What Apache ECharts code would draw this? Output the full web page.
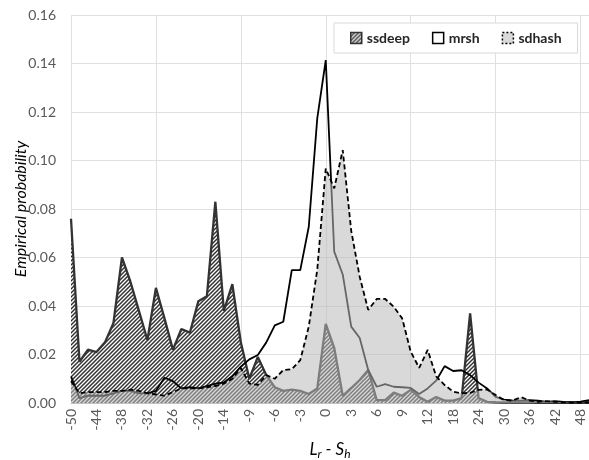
<!DOCTYPE html>
<html lang="en">
<head>
  <meta charset="UTF-8">
  <title>Empirical probability</title>
  <script src="https://cdn.jsdelivr.net/npm/echarts@6/dist/echarts.min.js"></script>
</head>
<body style="margin:0">
<div id="main" style="width: 589px;height:460px;"></div>
<script type="text/javascript">

// L_r - S_h categories (step 2 on the sides, step 1 in the middle)
var categories = [-50,-48,-46,-44,-42,-40,-38,-36,-34,-32,-30,-28,-26,-24,-22,-20,-18,-16,-14,-12,-10,
  -9,-8,-7,-6,-5,-4,-3,-2,-1,0,1,2,3,4,5,6,7,8,9,10,11,12,
  14,16,18,20,22,24,26,28,30,32,34,36,38,40,42,44,46,48,50];

var ssdeep = [0.076,0.017,0.022,0.021,0.025,0.033,0.060,0.050,0.038,0.026,0.0475,0.035,0.022,0.0305,0.029,0.042,0.044,0.083,0.038,0.049,0.025,
  0.010,0.019,0.0115,0.0065,0.005,0.0055,0.005,0.0037,0.006,0.0326,0.0227,0.003,0.0062,0.0095,0.0136,0.0012,0.0012,0.0043,0.003,0.0054,0.0025,0.0005,
  0.0025,0.001,0.001,0.002,0.037,0.002,0.0005,0.0003,0.0002,0.0002,0.0002,0.0002,0.0001,0.0001,0.0001,0.0001,0.0001,0.0001,0.0001];

var mrsh = [0.011,0.002,0.003,0.003,0.003,0.004,0.005,0.005,0.004,0.004,0.005,0.0104,0.009,0.006,0.0065,0.006,0.007,0.008,0.0085,0.011,0.015,
  0.018,0.0198,0.025,0.032,0.0335,0.0548,0.0548,0.0727,0.1174,0.1414,0.0624,0.053,0.0315,0.0268,0.0136,0.0067,0.0078,0.0067,0.0065,0.0062,0.0037,0.006,
  0.0092,0.0152,0.0132,0.0135,0.0115,0.0084,0.006,0.0025,0.0014,0.001,0.001,0.0012,0.001,0.0005,0.0008,0.0005,0.0003,0.0006,0.0012];

var sdhash = [0.009,0.004,0.0045,0.0045,0.0045,0.005,0.005,0.0055,0.005,0.004,0.0035,0.003,0.0045,0.006,0.006,0.006,0.0065,0.007,0.008,0.010,0.0144,
  0.008,0.0075,0.0115,0.010,0.0136,0.0139,0.0177,0.0315,0.055,0.0967,0.0885,0.1043,0.071,0.052,0.0384,0.0429,0.0429,0.0397,0.0349,0.0212,0.0145,0.0219,
  0.011,0.0074,0.0047,0.004,0.0042,0.0054,0.0056,0.0033,0.0012,0.001,0.0024,0.001,0.0005,0.0008,0.0005,0.0003,0.0002,0.0002,0.0003];

var yTicks = [0, 0.16, 0.02]; // min, max, step

// diagonal hatch for ssdeep
function hatch() {
  var c = document.createElement('canvas');
  c.width = 4; c.height = 4;
  var g = c.getContext('2d');
  g.fillStyle = '#ffffff';
  g.fillRect(0, 0, 4, 4);
  g.strokeStyle = '#333333';
  g.lineWidth = 1.5;
  g.beginPath();
  g.moveTo(-1, 5); g.lineTo(5, -1);
  g.moveTo(-1, 1); g.lineTo(1, -1);
  g.moveTo(3, 5); g.lineTo(5, 3);
  g.stroke();
  return c;
}
var hatchFill = { image: hatch(), repeat: 'repeat' };

var font = 'Lato, "Open Sans", sans-serif';
var myChart = echarts.init(document.getElementById('main'));

var option = {
  animation: false,
  backgroundColor: '#ffffff',
  grid: { left: 71, right: 0, top: 15, bottom: 57, outerBoundsMode: 'none', containLabel: false },
  legend: {
    left: 334, top: 23,
    padding: [8, 16, 8, 16],
    itemGap: 22,
    itemWidth: 11, itemHeight: 11,
    backgroundColor: '#ffffff',
    borderColor: '#d9d9d9', borderWidth: 1,
    textStyle: { fontFamily: font, fontWeight: 'bold', fontSize: 14, color: '#262626' },
    data: [
      { name: 'ssdeep', icon: 'rect', itemStyle: { color: hatchFill, borderColor: '#333', borderWidth: 1.5 } },
      { name: 'mrsh', icon: 'rect', itemStyle: { color: '#ffffff', borderColor: '#000', borderWidth: 1.5 } },
      { name: 'sdhash', icon: 'rect', itemStyle: { color: '#d9d9d9', borderColor: '#000', borderWidth: 1.5, borderType: [2, 2] } }
    ]
  },
  xAxis: {
    type: 'category',
    data: categories,
    boundaryGap: false,
    name: '{i|L}{s|r}{i| - S}{s|h}',
    nameLocation: 'middle',
    nameGap: 36,
    nameTextStyle: {
      rich: {
        i: { fontFamily: font, fontStyle: 'italic', fontSize: 17, color: '#000' },
        s: { fontFamily: font, fontStyle: 'italic', fontSize: 12, color: '#000', verticalAlign: 'bottom', padding: [9, 0, 0, 0] }
      }
    },
    axisLine: { lineStyle: { color: '#bfbfbf' } },
    axisTick: { show: false },
    axisLabel: { interval: 2, rotate: 90, margin: 6, fontFamily: font, fontSize: 14, color: '#595959' },
    splitLine: { show: true, interval: 9, lineStyle: { color: '#e0e0e0' } }
  },
  yAxis: {
    type: 'value',
    min: yTicks[0], max: yTicks[1], interval: yTicks[2],
    name: 'Empirical probability',
    nameLocation: 'middle',
    nameGap: 42,
    nameMoveOverlap: false,
    nameTextStyle: { fontFamily: font, fontStyle: 'italic', fontSize: 16, color: '#000' },
    axisLine: { show: false },
    axisLabel: { margin: 15, fontFamily: font, fontSize: 14, color: '#595959', formatter: function (v) { return v.toFixed(2); } },
    splitLine: { lineStyle: { color: '#e0e0e0' } }
  },
  series: [
    {
      name: 'ssdeep', type: 'line', data: ssdeep, showSymbol: false, z: 2,
      lineStyle: { color: '#333333', width: 2.3 },
      itemStyle: { color: '#333333' },
      areaStyle: { color: hatchFill, opacity: 1 }
    },
    {
      name: 'mrsh', type: 'line', data: mrsh, showSymbol: false, z: 3,
      lineStyle: { color: '#000', width: 1.8 },
      itemStyle: { color: '#000' }
    },
    {
      name: 'sdhash', type: 'line', data: sdhash, showSymbol: false, z: 4,
      lineStyle: { color: '#000', width: 1.8, type: [5, 3] },
      itemStyle: { color: '#000' },
      areaStyle: { color: 'rgba(185,185,185,0.55)', opacity: 1 }
    }
  ]
};

myChart.setOption(option);

</script>
</body>
</html>
